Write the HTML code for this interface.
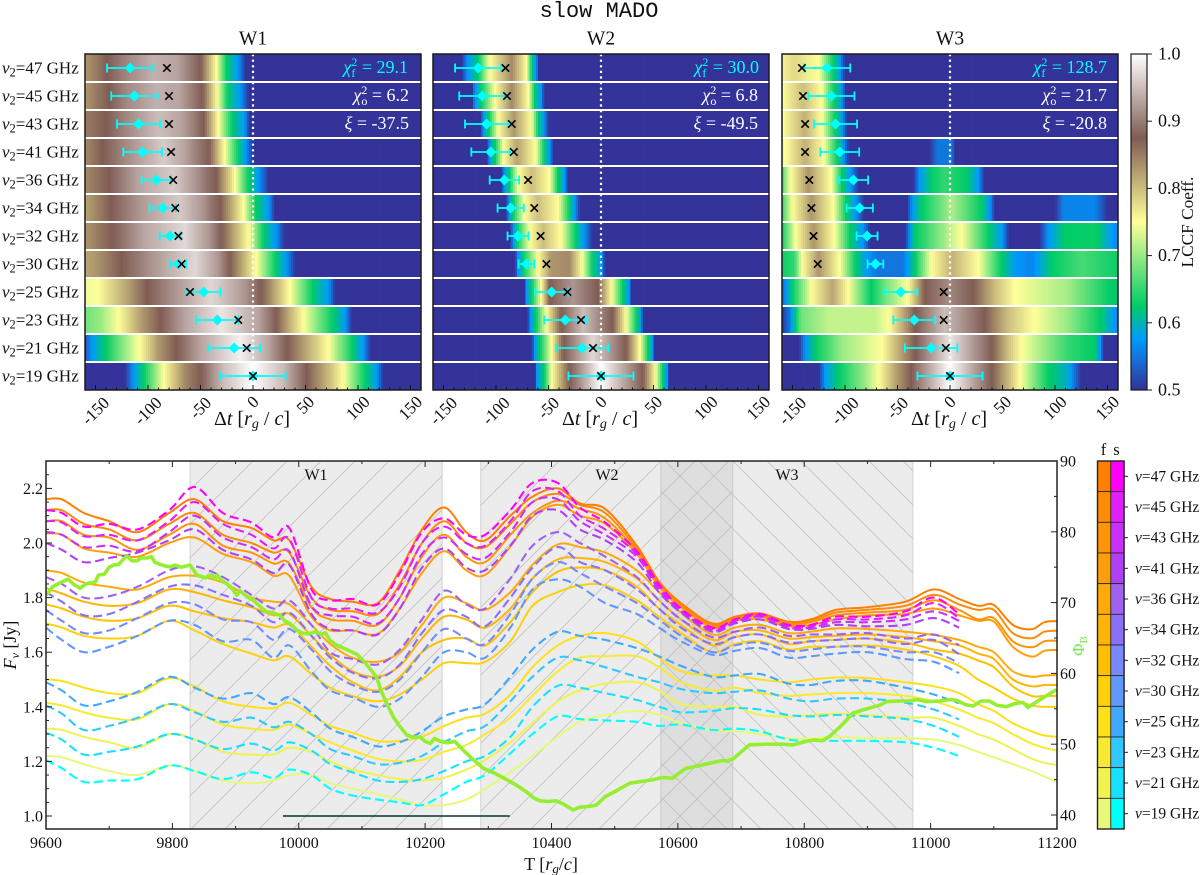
<!DOCTYPE html>
<html lang="en">
<head>
<meta charset="utf-8">
<title>slow MADO</title>
<style>
html,body{margin:0;padding:0;background:#fff;}
svg{display:block;}
text{font-family:"Liberation Serif","DejaVu Serif",serif;fill:#111;}
</style>
</head>
<body>
<svg id="chart" width="1200" height="875" viewBox="0 0 1200 875" xmlns="http://www.w3.org/2000/svg">
<defs>
<pattern id="hatch-fwd" patternUnits="userSpaceOnUse" width="34" height="34"><path d="M-2,36 L36,-2 M-2,2 L2,-2 M32,36 L36,32" stroke="#c4c4c4" stroke-width="0.9" fill="none"/></pattern>
<pattern id="hatch-back" patternUnits="userSpaceOnUse" width="34" height="34"><path d="M-2,-2 L36,36 M32,-2 L36,2 M-2,32 L2,36" stroke="#c4c4c4" stroke-width="0.9" fill="none"/></pattern>
</defs>
<text x="599" y="17" text-anchor="middle" style="font-family:'Liberation Mono',monospace;font-size:22px">slow MADO</text>
<text x="253" y="44.5" text-anchor="middle" font-size="19.5">W1</text>
<text x="601" y="44.5" text-anchor="middle" font-size="19.5">W2</text>
<text x="950" y="44.5" text-anchor="middle" font-size="19.5">W3</text>
<g id="heat-layer"></g>
<g font-size="18">
<text x="408" y="73" text-anchor="end" style="fill:#00ffff"><tspan font-style="italic" style="fill:#00ffff">χ</tspan><tspan dy="4" font-size="12" style="fill:#00ffff">f</tspan><tspan dy="-11" dx="-4" font-size="12" style="fill:#00ffff">2</tspan><tspan dy="7" style="fill:#00ffff"> = 29.1</tspan></text>
<text x="409" y="101" text-anchor="end" style="fill:#fff"><tspan font-style="italic" style="fill:#fff">χ</tspan><tspan dy="4" font-size="12" style="fill:#fff">o</tspan><tspan dy="-11" dx="-6" font-size="12" style="fill:#fff">2</tspan><tspan dy="7" style="fill:#fff"> = 6.2</tspan></text>
<text x="409" y="129" text-anchor="end" style="fill:#fff"><tspan font-style="italic" style="fill:#fff">ξ</tspan> = -37.5</text>
</g>
<g font-size="18">
<text x="759" y="73" text-anchor="end" style="fill:#00ffff"><tspan font-style="italic" style="fill:#00ffff">χ</tspan><tspan dy="4" font-size="12" style="fill:#00ffff">f</tspan><tspan dy="-11" dx="-4" font-size="12" style="fill:#00ffff">2</tspan><tspan dy="7" style="fill:#00ffff"> = 30.0</tspan></text>
<text x="758" y="101" text-anchor="end" style="fill:#fff"><tspan font-style="italic" style="fill:#fff">χ</tspan><tspan dy="4" font-size="12" style="fill:#fff">o</tspan><tspan dy="-11" dx="-6" font-size="12" style="fill:#fff">2</tspan><tspan dy="7" style="fill:#fff"> = 6.8</tspan></text>
<text x="758" y="129" text-anchor="end" style="fill:#fff"><tspan font-style="italic" style="fill:#fff">ξ</tspan> = -49.5</text>
</g>
<g font-size="18">
<text x="1107" y="73" text-anchor="end" style="fill:#00ffff"><tspan font-style="italic" style="fill:#00ffff">χ</tspan><tspan dy="4" font-size="12" style="fill:#00ffff">f</tspan><tspan dy="-11" dx="-4" font-size="12" style="fill:#00ffff">2</tspan><tspan dy="7" style="fill:#00ffff"> = 128.7</tspan></text>
<text x="1107" y="101" text-anchor="end" style="fill:#fff"><tspan font-style="italic" style="fill:#fff">χ</tspan><tspan dy="4" font-size="12" style="fill:#fff">o</tspan><tspan dy="-11" dx="-6" font-size="12" style="fill:#fff">2</tspan><tspan dy="7" style="fill:#fff"> = 21.7</tspan></text>
<text x="1107" y="129" text-anchor="end" style="fill:#fff"><tspan font-style="italic" style="fill:#fff">ξ</tspan> = -20.8</text>
</g>
<text x="252" y="425" text-anchor="middle" font-size="20">Δ<tspan font-style="italic">t</tspan> [<tspan font-style="italic">r</tspan><tspan font-style="italic" font-size="14" dy="3">g</tspan><tspan dy="-3"> /</tspan> <tspan font-style="italic">c</tspan>]</text>
<text x="600" y="425" text-anchor="middle" font-size="20">Δ<tspan font-style="italic">t</tspan> [<tspan font-style="italic">r</tspan><tspan font-style="italic" font-size="14" dy="3">g</tspan><tspan dy="-3"> /</tspan> <tspan font-style="italic">c</tspan>]</text>
<text x="949" y="425" text-anchor="middle" font-size="20">Δ<tspan font-style="italic">t</tspan> [<tspan font-style="italic">r</tspan><tspan font-style="italic" font-size="14" dy="3">g</tspan><tspan dy="-3"> /</tspan> <tspan font-style="italic">c</tspan>]</text>
<text transform="translate(1193,222) rotate(-90)" text-anchor="middle" font-size="17.3">LCCF Coeff.</text>
<g id="colorbar-layer"></g>
<g id="flux-layer"></g>
<text x="551" y="870" text-anchor="middle" font-size="18">T [<tspan font-style="italic">r</tspan><tspan font-style="italic" font-size="13" dy="3">g</tspan><tspan dy="-3">/</tspan><tspan font-style="italic">c</tspan>]</text>
<text transform="translate(16,645) rotate(-90)" text-anchor="middle" font-size="18"><tspan font-style="italic">F</tspan><tspan font-style="italic" font-size="12" dy="3">ν</tspan><tspan dy="-3"> [Jy]</tspan></text>
<text transform="translate(1084,646) rotate(-90)" text-anchor="middle" font-size="17" style="fill:#70e848">Φ<tspan font-size="11" dy="3" style="fill:#70e848">B</tspan></text>
<g id="legend-layer"></g>
<text x="1103.5" y="455" text-anchor="middle" font-size="16.5">f</text>
<text x="1116.5" y="455" text-anchor="middle" font-size="16.5">s</text>
</svg>
<script>
// ----- LCCF heatmap data: each row is a list of [lag, coefficient] readings -----
const frequencies = [47,45,43,41,36,34,32,30,25,23,21,19];
const fitLags = [-117,-113,-109,-105,-92,-86,-79,-71,-47,-34,-18,0];
const fitErrors = [22,22,20.5,18.5,14,12.5,10,7.5,16,20,25,31];
const w1PeakLags = [-82,-80,-80,-78,-76,-74,-71,-68,-60,-14,-6,0];
const w2PeakLags = [-91,-89.5,-85,-83,-69.5,-63.5,-57.5,-52,-32,-19,-7.6,0];
const w3PeakLags = [-141,-140,-138,-138,-134,-132,-130,-126,-6,-6,-4,0];
const lagTicks = [-150,-100,-50,0,50,100,150];
const colorbarTicks = ['0.5','0.6','0.7','0.8','0.9','1.0'];
const terrainLevels = [0.5,0.575,0.625,0.75,0.875,1.0];
const terrainColors = [[51,51,153],[0,153,255],[0,204,102],[255,255,153],[128,92,84],[255,255,255]];

const w1Rows = [
 [[-160,.83],[-150,.85],[-139,.875],[-125,.90],[-95,.94],[-72,.93],[-60,.90],[-50,.875],[-35,.75],[-25,.625],[-14,.575],[-7,.5]],
 [[-160,.83],[-148,.855],[-137,.875],[-120,.91],[-92,.94],[-70,.93],[-58,.90],[-48,.875],[-34,.75],[-24,.625],[-12,.575],[-4,.5]],
 [[-160,.85],[-140,.875],[-120,.91],[-90,.95],[-68,.93],[-56,.90],[-47,.875],[-33,.75],[-20,.625],[-8,.575],[-3,.5]],
 [[-160,.84],[-143,.875],[-115,.92],[-85,.96],[-65,.93],[-53,.90],[-42,.875],[-27,.75],[-14,.625],[-7,.575],[0,.5]],
 [[-160,.84],[-137,.875],[-110,.93],[-75,.96],[-55,.92],[-43,.89],[-35,.875],[-17,.75],[-4,.625],[5,.575],[15,.5]],
 [[-160,.82],[-135,.875],[-108,.92],[-70,.96],[-48,.92],[-38,.89],[-31,.875],[-9,.75],[3,.625],[15,.575],[21,.5]],
 [[-160,.83],[-134,.875],[-105,.93],[-65,.97],[-42,.92],[-34,.89],[-30,.875],[-4,.75],[10,.625],[22,.575],[30,.5]],
 [[-160,.82],[-150,.83],[-125,.875],[-95,.92],[-55,.97],[-33,.92],[-22,.875],[3,.75],[22,.625],[32,.575],[40,.5]],
 [[-160,.74],[-148,.75],[-120,.82],[-101,.875],[-80,.91],[-40,.97],[-8,.92],[8,.875],[20,.82],[35,.75],[57,.625],[72,.575],[78,.5]],
 [[-160,.68],[-145,.70],[-128,.75],[-105,.83],[-88,.875],[-65,.93],[-30,.98],[5,.93],[22,.875],[35,.81],[48,.75],[76,.625],[88,.575],[94,.5]],
 [[-160,.52],[-154,.575],[-140,.625],[-125,.69],[-108,.75],[-90,.83],[-73,.875],[-50,.93],[-12,.99],[15,.93],[32,.875],[50,.82],[72,.75],[95,.625],[105,.575],[112,.5]],
 [[-160,.5],[-122,.5],[-114,.575],[-104,.625],[-85,.75],[-65,.84],[-50,.875],[-28,.95],[0,1],[28,.95],[51,.875],[70,.81],[86,.75],[107,.625],[118,.575],[124,.5]]
];
const w2Rows = [
 [[-133,.5],[-127,.575],[-117,.625],[-106,.75],[-85,.84],[-71,.75],[-66,.625],[-62,.575],[-59,.5]],
 [[-123,.5],[-120,.575],[-114,.625],[-101,.75],[-85,.84],[-69,.75],[-63,.625],[-57,.575],[-54,.5]],
 [[-115,.5],[-112,.575],[-107,.625],[-98,.75],[-83,.83],[-66,.75],[-60,.625],[-54,.575],[-50,.5]],
 [[-109,.5],[-106,.575],[-101,.625],[-93,.75],[-80,.82],[-62,.75],[-54,.625],[-49,.575],[-45,.5]],
 [[-95,.5],[-92,.575],[-87,.625],[-79,.75],[-66,.80],[-49,.75],[-41,.625],[-35,.575],[-31,.5]],
 [[-90,.5],[-88,.575],[-84,.625],[-73,.75],[-60,.80],[-41,.75],[-30,.625],[-25,.575],[-20,.5]],
 [[-86,.5],[-84,.575],[-80,.625],[-68,.75],[-55,.80],[-38,.75],[-24,.625],[-16,.575],[-8,.5]],
 [[-82,.5],[-79,.575],[-74,.625],[-60,.75],[-48,.83],[-30,.84],[-18,.75],[-8,.625],[0,.575],[4,.5]],
 [[-73,.5],[-71,.575],[-66,.625],[-57,.75],[-49,.875],[-27,.92],[-3,.875],[10,.75],[21,.625],[27,.575],[29,.5]],
 [[-70,.5],[-67,.575],[-62,.625],[-52,.75],[-38,.875],[-17,.95],[11,.875],[24,.75],[34,.625],[38,.575],[40,.5]],
 [[-66,.5],[-63,.575],[-58,.625],[-47,.75],[-36,.875],[-8,.97],[24,.875],[37,.75],[45,.625],[49,.575],[51,.5]],
 [[-63,.5],[-61,.575],[-54,.625],[-47,.75],[-30,.875],[0,1],[40,.875],[52,.75],[59,.625],[63,.575],[65,.5]]
];
const w3Rows = [
 [[-160,.76],[-148,.78],[-125,.75],[-114,.65],[-106,.59],[-100,.5]],
 [[-160,.75],[-140,.80],[-122,.75],[-113,.65],[-104,.585],[-99,.5]],
 [[-160,.75],[-138,.81],[-122,.75],[-112,.65],[-103,.58],[-98,.5]],
 [[-160,.74],[-138,.81],[-120,.75],[-110,.65],[-102,.58],[-96,.5],[-20,.5],[-12,.55],[2,.55],[5,.5]],
 [[-160,.66],[-152,.75],[-135,.83],[-113,.75],[-103,.625],[-95,.575],[-87,.5],[-35,.5],[-29,.575],[-18,.625],[-5,.65],[15,.625],[27,.575],[33,.5]],
 [[-160,.65],[-150,.75],[-132,.83],[-111,.75],[-99,.625],[-90,.575],[-82,.5],[-41,.5],[-36,.575],[-27,.625],[2,.71],[30,.625],[38,.575],[43,.5],[100,.5],[108,.56],[138,.56],[150,.5]],
 [[-160,.63],[-147,.75],[-130,.83],[-110,.75],[-95,.625],[-83,.575],[-76,.5],[-43,.5],[-38,.575],[-33,.625],[11,.75],[37,.625],[50,.575],[56,.5],[85,.5],[94,.575],[109,.625],[138,.63],[155,.575],[160,.56]],
 [[-160,.63],[-148,.65],[-141,.75],[-125,.83],[-105,.75],[-90,.625],[-78,.575],[-70,.55],[-45,.55],[-33,.625],[-18,.75],[2,.81],[27,.75],[49,.625],[62,.575],[78,.56],[97,.625],[125,.66],[160,.63]],
 [[-160,.54],[-156,.575],[-150,.625],[-132,.75],[-112,.82],[-97,.75],[-75,.625],[-62,.68],[-40,.75],[-24,.875],[-2,.91],[22,.875],[43,.80],[62,.75],[112,.705],[150,.63],[160,.62]],
 [[-160,.5],[-153,.55],[-149,.6],[-142,.68],[-115,.72],[-72,.72],[-58,.75],[-33,.875],[-5,.95],[33,.875],[55,.80],[80,.75],[112,.70],[143,.625],[157,.575],[160,.56]],
 [[-160,.5],[-144,.5],[-138,.575],[-128,.625],[-103,.70],[-65,.75],[-33,.875],[0,.98],[40,.875],[55,.80],[68,.75],[112,.65],[137,.625],[143,.575],[146,.5]],
 [[-160,.5],[-125,.5],[-119,.575],[-106,.625],[-81,.70],[-68,.75],[-52,.82],[-37,.875],[0,1],[40,.875],[52,.82],[67,.75],[94,.625],[113,.59],[125,.5]]
];

// ----- Light curve data -----
const timeGrid = [9600,9625,9660,9700,9745,9795,9835,9880,9925,9960,9985,10020,10050,10085,10125,10160,10195,10230,10265,10295,10335,10370,10410,10445,10485,10535,10570,10605,10655,10690,10730,10775,10810,10850,10900,10960,11005,11045,11075,11100,11130,11160,11180,11200];
const fast47 = [2.16,2.16,2.11,2.08,2.04,2.11,2.16,2.08,2.055,2.01,2.01,1.84,1.795,1.785,1.78,1.90,2.05,2.13,2.04,2.01,2.10,2.17,2.20,2.145,2.125,1.99,1.86,1.78,1.705,1.73,1.742,1.712,1.72,1.755,1.765,1.785,1.83,1.795,1.77,1.773,1.70,1.684,1.71,1.714];
const fast45 = [2.12,2.12,2.07,2.05,2.01,2.07,2.11,2.03,2.00,1.965,1.965,1.80,1.755,1.75,1.74,1.85,2.00,2.08,2.00,1.985,2.07,2.15,2.18,2.14,2.11,1.98,1.855,1.775,1.70,1.725,1.737,1.707,1.715,1.745,1.755,1.77,1.81,1.775,1.755,1.755,1.67,1.651,1.675,1.679];
const fast43 = [2.08,2.08,2.03,2.02,1.975,2.03,2.07,1.99,1.965,1.925,1.925,1.765,1.72,1.715,1.70,1.80,1.95,2.03,1.95,1.93,2.03,2.11,2.155,2.125,2.09,1.97,1.85,1.77,1.695,1.72,1.73,1.70,1.71,1.735,1.745,1.755,1.79,1.755,1.72,1.725,1.64,1.618,1.64,1.642];
const fast41 = [2.035,2.03,1.98,1.965,1.95,2.0,2.02,1.96,1.93,1.88,1.88,1.73,1.68,1.68,1.667,1.76,1.89,1.97,1.90,1.883,1.987,2.096,2.14,2.10,2.07,1.96,1.84,1.765,1.69,1.715,1.72,1.695,1.70,1.72,1.735,1.74,1.76,1.735,1.715,1.712,1.62,1.584,1.605,1.608];
const fast36 = [1.90,1.89,1.855,1.84,1.83,1.875,1.88,1.855,1.80,1.785,1.775,1.70,1.63,1.58,1.565,1.60,1.70,1.80,1.78,1.755,1.82,1.92,1.995,1.985,1.965,1.90,1.82,1.745,1.665,1.69,1.70,1.67,1.675,1.687,1.685,1.675,1.663,1.645,1.62,1.60,1.53,1.51,1.515,1.516];
const fast34 = [1.835,1.815,1.785,1.77,1.78,1.83,1.82,1.79,1.765,1.735,1.74,1.66,1.59,1.53,1.51,1.55,1.65,1.73,1.72,1.69,1.76,1.87,1.94,1.945,1.93,1.87,1.79,1.72,1.645,1.675,1.68,1.65,1.655,1.66,1.665,1.655,1.64,1.625,1.595,1.575,1.50,1.475,1.48,1.48];
const fast32 = [1.775,1.76,1.73,1.715,1.725,1.77,1.75,1.725,1.71,1.69,1.70,1.62,1.55,1.49,1.46,1.51,1.60,1.645,1.65,1.625,1.71,1.82,1.895,1.91,1.90,1.84,1.76,1.70,1.625,1.655,1.665,1.63,1.64,1.645,1.65,1.635,1.61,1.595,1.57,1.545,1.475,1.44,1.44,1.44];
const fast30 = [1.705,1.69,1.66,1.65,1.66,1.715,1.68,1.63,1.595,1.57,1.585,1.52,1.47,1.44,1.42,1.445,1.50,1.56,1.56,1.565,1.64,1.77,1.82,1.845,1.845,1.79,1.73,1.67,1.60,1.63,1.64,1.61,1.62,1.62,1.625,1.61,1.585,1.55,1.50,1.47,1.43,1.405,1.40,1.40];
const fast25 = [1.50,1.495,1.47,1.45,1.45,1.505,1.475,1.42,1.40,1.395,1.415,1.37,1.33,1.305,1.275,1.275,1.29,1.33,1.36,1.375,1.445,1.545,1.625,1.66,1.67,1.64,1.58,1.53,1.515,1.515,1.50,1.49,1.50,1.507,1.505,1.49,1.475,1.45,1.41,1.385,1.34,1.31,1.295,1.29];
const fast23 = [1.415,1.405,1.38,1.36,1.355,1.41,1.385,1.335,1.32,1.315,1.335,1.30,1.27,1.24,1.21,1.20,1.205,1.235,1.26,1.30,1.36,1.44,1.53,1.58,1.585,1.585,1.545,1.49,1.46,1.47,1.45,1.44,1.445,1.45,1.45,1.44,1.42,1.39,1.36,1.34,1.30,1.265,1.25,1.24];
const fast21 = [1.32,1.315,1.29,1.27,1.25,1.30,1.28,1.235,1.225,1.225,1.25,1.235,1.20,1.17,1.15,1.135,1.13,1.14,1.17,1.205,1.27,1.34,1.42,1.46,1.485,1.49,1.46,1.41,1.40,1.40,1.37,1.365,1.37,1.375,1.37,1.36,1.36,1.33,1.30,1.28,1.245,1.21,1.195,1.187];
const fast19 = [1.22,1.215,1.19,1.165,1.15,1.185,1.165,1.13,1.12,1.13,1.15,1.15,1.12,1.10,1.08,1.06,1.04,1.04,1.06,1.10,1.16,1.22,1.29,1.345,1.37,1.385,1.37,1.34,1.315,1.31,1.30,1.285,1.285,1.29,1.285,1.285,1.28,1.26,1.235,1.215,1.19,1.165,1.145,1.125];
const slow47 = [2.12,2.11,2.06,2.07,2.05,2.12,2.205,2.11,2.075,2.02,2.055,1.83,1.79,1.795,1.775,1.89,2.04,2.09,2.03,2.03,2.12,2.22,2.22,2.13,2.075,1.97,1.85,1.76,1.69,1.72,1.74,1.70,1.70,1.73,1.73,1.75,1.80,1.74];
const slow45 = [2.08,2.075,2.025,2.03,2.01,2.08,2.15,2.07,2.03,1.98,2.015,1.80,1.76,1.76,1.745,1.84,2.00,2.06,2.00,1.99,2.08,2.19,2.19,2.10,2.05,1.96,1.84,1.755,1.685,1.715,1.735,1.695,1.695,1.72,1.72,1.735,1.78,1.725];
const slow43 = [2.04,2.03,1.985,1.99,1.97,2.04,2.10,2.02,1.985,1.94,1.97,1.77,1.735,1.73,1.705,1.80,1.96,2.02,1.96,1.945,2.04,2.15,2.16,2.08,2.03,1.95,1.83,1.75,1.68,1.71,1.73,1.69,1.69,1.71,1.71,1.72,1.75,1.715];
const slow41 = [2.0,1.975,1.93,1.945,1.965,2.01,2.05,1.975,1.94,1.89,1.92,1.74,1.685,1.68,1.665,1.76,1.91,1.98,1.91,1.90,1.99,2.10,2.12,2.05,2.01,1.93,1.82,1.745,1.675,1.705,1.72,1.685,1.685,1.70,1.695,1.70,1.725,1.69];
const slow36 = [1.875,1.85,1.80,1.805,1.84,1.90,1.915,1.875,1.81,1.76,1.79,1.70,1.60,1.575,1.555,1.61,1.72,1.825,1.775,1.76,1.87,1.99,2.04,2.0,1.95,1.875,1.79,1.72,1.655,1.675,1.69,1.66,1.665,1.665,1.67,1.65,1.665,1.626];
const slow34 = [1.82,1.785,1.735,1.74,1.785,1.84,1.845,1.81,1.77,1.71,1.745,1.66,1.58,1.525,1.505,1.555,1.67,1.755,1.73,1.695,1.80,1.91,1.985,1.93,1.90,1.83,1.76,1.69,1.63,1.655,1.665,1.635,1.64,1.645,1.65,1.63,1.645,1.593];
const slow32 = [1.755,1.715,1.67,1.68,1.725,1.78,1.775,1.72,1.71,1.645,1.685,1.61,1.53,1.48,1.455,1.50,1.60,1.685,1.65,1.63,1.74,1.87,1.93,1.89,1.84,1.78,1.72,1.66,1.60,1.625,1.635,1.605,1.61,1.62,1.62,1.60,1.60,1.56];
const slow30 = [1.69,1.645,1.60,1.62,1.66,1.715,1.70,1.64,1.645,1.58,1.625,1.53,1.46,1.435,1.40,1.43,1.51,1.60,1.60,1.58,1.69,1.83,1.867,1.84,1.78,1.74,1.69,1.64,1.59,1.605,1.615,1.58,1.585,1.595,1.60,1.575,1.565,1.523];
const slow25 = [1.49,1.46,1.405,1.42,1.455,1.51,1.47,1.43,1.45,1.41,1.435,1.38,1.32,1.29,1.255,1.27,1.31,1.365,1.39,1.41,1.51,1.61,1.675,1.66,1.645,1.615,1.585,1.55,1.51,1.515,1.52,1.485,1.48,1.495,1.495,1.47,1.445,1.413];
const slow23 = [1.405,1.375,1.315,1.33,1.36,1.41,1.38,1.345,1.36,1.325,1.345,1.30,1.245,1.22,1.19,1.195,1.22,1.27,1.31,1.33,1.42,1.51,1.58,1.57,1.545,1.51,1.49,1.465,1.45,1.455,1.46,1.43,1.42,1.43,1.43,1.415,1.39,1.354];
const slow21 = [1.305,1.28,1.225,1.235,1.255,1.30,1.28,1.245,1.265,1.24,1.27,1.24,1.19,1.16,1.13,1.125,1.135,1.165,1.20,1.22,1.29,1.40,1.477,1.47,1.45,1.425,1.40,1.38,1.385,1.395,1.39,1.37,1.365,1.37,1.365,1.355,1.33,1.29];
const slow19 = [1.205,1.175,1.125,1.13,1.135,1.185,1.165,1.135,1.16,1.14,1.17,1.15,1.10,1.075,1.06,1.05,1.04,1.08,1.125,1.15,1.23,1.30,1.365,1.355,1.35,1.345,1.33,1.335,1.315,1.32,1.31,1.28,1.275,1.275,1.275,1.27,1.25,1.22];
const fastSeries = [fast47,fast45,fast43,fast41,fast36,fast34,fast32,fast30,fast25,fast23,fast21,fast19];
const slowSeries = [slow47,slow45,slow43,slow41,slow36,slow34,slow32,slow30,slow25,slow23,slow21,slow19];
const fastColors = ['#ff8000','#ff8a05','#ff9408','#ff9e0a','#ffaa08','#ffb406','#ffc004','#ffd008','#ffe018','#f8ea30','#f0f250','#e8f878'];
const slowColors = ['#ff00ff','#e020ff','#c830ff','#b040f8','#a060f0','#8a70f8','#7888ff','#6098ff','#40a8ff','#30c8ff','#18e0ff','#00ffff'];
const phiReadings = [[9601,71.05],[9610,72.2],[9620,72.7],[9635,73.3],[9645,72.5],[9654,72.0],[9662,72.6],[9670,72.8],[9678,72.9],[9683,73.9],[9692,74.0],[9700,75.0],[9707,75.3],[9715,75.4],[9722,76.1],[9728,76.6],[9736,75.9],[9744,75.9],[9750,76.3],[9760,76.3],[9767,76.5],[9772,75.7],[9778,75.5],[9787,75.2],[9796,75.05],[9805,75.3],[9813,75.0],[9828,75.3],[9839,73.9],[9852,73.5],[9862,73.9],[9868,73.4],[9871,73.9],[9878,73.1],[9886,72.7],[9895,71.9],[9902,71.05],[9907,71.7],[9912,71.3],[9920,70.7],[9928,70.35],[9938,69.5],[9949,68.7],[9958,68.6],[9970,68.2],[9978,67.4],[9986,67.05],[9997,66.1],[10007,65.65],[10016,65.6],[10027,65.9],[10035,65.5],[10042,65.75],[10050,64.6],[10060,64.0],[10075,63.4],[10092,62.7],[10105,61.5],[10123,59.5],[10130,57.6],[10139,55.8],[10150,53.8],[10160,52.5],[10171,51.3],[10180,51.0],[10192,51.0],[10200,50.4],[10208,50.1],[10215,50.8],[10224,50.4],[10235,50.2],[10247,50.4],[10260,49.2],[10274,48.0],[10292,46.6],[10310,45.9],[10329,45.0],[10345,44.2],[10363,43.1],[10372,42.4],[10382,42.0],[10395,41.9],[10408,42.0],[10420,41.5],[10434,40.7],[10445,41.1],[10458,41.2],[10471,41.4],[10485,42.6],[10503,43.45],[10512,43.9],[10524,44.5],[10540,44.7],[10561,45.0],[10575,45.3],[10592,45.2],[10603,46.0],[10613,46.6],[10630,46.9],[10650,47.3],[10671,47.7],[10678,47.6],[10687,47.9],[10700,48.9],[10713,49.9],[10740,50.0],[10765,50.0],[10782,49.9],[10803,50.4],[10815,50.6],[10829,50.5],[10840,51.1],[10855,52.3],[10865,53.2],[10877,54.4],[10895,54.9],[10919,55.5],[10930,56.0],[10946,56.1],[10965,56.1],[10980,56.3],[10993,56.0],[11015,56.1],[11030,56.3],[11041,56.2],[11055,55.6],[11067,55.4],[11080,56.1],[11093,56.1],[11105,55.5],[11120,55.3],[11132,55.7],[11146,55.9],[11154,55.2],[11175,56.4],[11199,57.7]];
const timeTicks = [9600,9800,10000,10200,10400,10600,10800,11000,11200];
const fluxTicks = ['1.0','1.2','1.4','1.6','1.8','2.0','2.2'];
const phiTicks = [40,50,60,70,80,90];
const windowNames = ['W1','W2','W3'];
const windowStarts = [9828,10288,10573];
const windowEnds = [10227,10687,10972];
const barStart = 9975;
const barEnd = 10334;
const barFlux = 1.0;

// ----- helpers -----
const NS = 'http://www.w3.org/2000/svg';
function mk(tag, attrs, parent, txt) {
  const n = document.createElementNS(NS, tag);
  for (const k in attrs) n.setAttribute(k, attrs[k]);
  if (txt !== undefined) n.textContent = txt;
  parent.appendChild(n);
  return n;
}
function tagged(n, name) {
  
  
  return n;
}
function corrAt(row, lag) {
  if (lag <= row[0][0]) return row[0][1];
  for (let i = 1; i < row.length; i++) {
    if (lag <= row[i][0]) {
      const t = (lag - row[i-1][0]) / (row[i][0] - row[i-1][0]);
      return row[i-1][1] + t * (row[i][1] - row[i-1][1]);
    }
  }
  return row[row.length-1][1];
}
function terrain(v) {
  const c = Math.max(0.5, Math.min(1, v));
  for (let i = 1; i < terrainLevels.length; i++) {
    if (c <= terrainLevels[i]) {
      const t = (c - terrainLevels[i-1]) / (terrainLevels[i] - terrainLevels[i-1]);
      const a = terrainColors[i-1], b = terrainColors[i];
      return 'rgb(' + Math.round(a[0]+t*(b[0]-a[0])) + ',' + Math.round(a[1]+t*(b[1]-a[1])) + ',' + Math.round(a[2]+t*(b[2]-a[2])) + ')';
    }
  }
  return 'rgb(255,255,255)';
}

// ----- heatmap panels -----
const heatLayer = document.getElementById('heat-layer');
const panelTop = 54, rowH = 28, panelH = 336, panelW = 336;
const panels = [
  {name:'w1', left:85, rows:w1Rows, peaks:w1PeakLags},
  {name:'w2', left:433, rows:w2Rows, peaks:w2PeakLags},
  {name:'w3', left:782, rows:w3Rows, peaks:w3PeakLags}
];
panels.forEach(function(p) {
  const lagX = function(l) { return p.left + (l + 160) * panelW / 320; };
  const g = tagged(mk('g', {}, heatLayer), p.name + '-panel');
  p.rows.forEach(function(row, i) {
    const rg = tagged(mk('g', {}, g), p.name + '-row-' + frequencies[i] + 'ghz');
    const y = panelTop + i * rowH;
    for (let lag = -160; lag < 160; lag += 2) {
      const cell = mk('rect', {x:lagX(lag).toFixed(2), y:y, width:lag >= 158 ? 2.1 : 2.6, height:rowH, fill:terrain(corrAt(row, lag + 1))}, rg);
      
      
    }
  });
  for (let i = 1; i < 12; i++) {
    const sep = mk('rect', {x:p.left, y:panelTop + i*rowH - 1, width:panelW, height:2, fill:'#fff'}, g);
    
    
  }
  const zero = mk('line', {x1:lagX(0), x2:lagX(0), y1:panelTop, y2:panelTop+panelH, stroke:'#fff', 'stroke-width':2.2, 'stroke-dasharray':'2.2 3.4'}, g);
  
  
  for (let l = -150; l <= 150; l += 10) {
    const major = l % 50 === 0;
    const t = mk('line', {x1:lagX(l), x2:lagX(l), y1:panelTop+panelH, y2:panelTop+panelH-(major?5:2.5), stroke:'#111', 'stroke-width':1}, g);
    
    
  }
  fitLags.forEach(function(l, i) {
    const cy = panelTop + i*rowH + rowH/2;
    const e = fitErrors[i];
    const bar = mk('path', {d:'M'+lagX(l-e)+','+cy+'H'+lagX(l+e)+'M'+lagX(l-e)+','+(cy-4.5)+'V'+(cy+4.5)+'M'+lagX(l+e)+','+(cy-4.5)+'V'+(cy+4.5), stroke:'#00ffff', 'stroke-width':1.8, fill:'none'}, g);
    
    
    const cx = lagX(l);
    const d = mk('path', {d:'M'+(cx-5.5)+','+cy+'L'+cx+','+(cy-5.5)+'L'+(cx+5.5)+','+cy+'L'+cx+','+(cy+5.5)+'Z', fill:'#00ffff'}, g);
    
    
  });
  p.peaks.forEach(function(l, i) {
    const cy = panelTop + i*rowH + rowH/2;
    const cx = lagX(l);
    const x = mk('path', {d:'M'+(cx-3.7)+','+(cy-3.7)+'L'+(cx+3.7)+','+(cy+3.7)+'M'+(cx-3.7)+','+(cy+3.7)+'L'+(cx+3.7)+','+(cy-3.7), stroke:'#000', 'stroke-width':1.6, fill:'none'}, g);
    
    
  });
  const frame = mk('rect', {x:p.left, y:panelTop, width:panelW, height:panelH, fill:'none', stroke:'#1a1a1a', 'stroke-width':1.5}, g);
  
  
  lagTicks.forEach(function(l) {
    const s = String(l);
    const w = s.length * 8.5;
    const cy = 394 + (w + 14) * 0.3535;
    const lab = mk('text', {transform:'translate('+lagX(l)+','+cy+') rotate(-45)', 'text-anchor':'middle', 'dominant-baseline':'central', 'font-size':17}, g, s);
    
    
  });
});
frequencies.forEach(function(f, i) {
  const t = mk('text', {x:2, y:panelTop + i*rowH + rowH/2 + 5.5, 'font-size':17}, heatLayer);
  
  
  mk('tspan', {'font-style':'italic'}, t, 'ν');
  mk('tspan', {'font-size':12.5, dy:3}, t, '2');
  mk('tspan', {dy:-3}, t, '=' + f + ' GHz');
});

// ----- colorbar -----
const cbLayer = document.getElementById('colorbar-layer');
const cbY = function(v) { return 390 - (v - 0.5) * 672; };
for (let k = 0; k < 336; k++) {
  const s = mk('rect', {x:1131, y:54 + k, width:16, height:1.5, fill:terrain(1 - (k + 0.5) / 672)}, cbLayer);
  
  
}
const cbFrame = mk('rect', {x:1131, y:54, width:16, height:336, fill:'none', stroke:'#1a1a1a', 'stroke-width':1.2}, cbLayer);


colorbarTicks.forEach(function(lbl) {
  const y = cbY(parseFloat(lbl));
  const tk = mk('line', {x1:1147, x2:1152, y1:y, y2:y, stroke:'#1a1a1a', 'stroke-width':1}, cbLayer);
  
  
  const tx = mk('text', {x:1158, y:y + 5.5, 'font-size':18}, cbLayer, lbl);
  
  
});

// ----- light curve plot -----
const fl = document.getElementById('flux-layer');
const pL = 46, pR = 1057, pT = 461, pB = 829;
const xT = function(t) { return pL + (t - 9600) * (pR - pL) / 1600; };
const yF = function(f) { return 816 - (f - 1) * 273; };
const yPhi = function(v) { return 815 - (v - 40) * 7.08; };
function smoothPath(ts, vs, yFn) {
  const n = vs.length;
  const xs = [], ys = [];
  for (let i = 0; i < n; i++) { xs.push(xT(ts[i])); ys.push(yFn(vs[i])); }
  let d = 'M' + xs[0].toFixed(1) + ',' + ys[0].toFixed(1);
  for (let i = 0; i < n - 1; i++) {
    const a = Math.max(0, i - 1), b = Math.min(n - 1, i + 2);
    const c1x = xs[i] + (xs[i+1] - xs[a]) / 6, c1y = ys[i] + (ys[i+1] - ys[a]) / 6;
    const c2x = xs[i+1] - (xs[b] - xs[i]) / 6, c2y = ys[i+1] - (ys[b] - ys[i]) / 6;
    d += 'C' + c1x.toFixed(1) + ',' + c1y.toFixed(1) + ' ' + c2x.toFixed(1) + ',' + c2y.toFixed(1) + ' ' + xs[i+1].toFixed(1) + ',' + ys[i+1].toFixed(1);
  }
  return d;
}
windowNames.forEach(function(w, i) {
  const x0 = xT(windowStarts[i]), x1 = xT(windowEnds[i]);
  const shade = mk('rect', {x:x0, y:pT, width:x1 - x0, height:pB - pT, fill:'#b8b8b8', 'fill-opacity':0.27, stroke:'#bbb', 'stroke-opacity':0.6, 'stroke-width':1}, fl);
  
  
  const hatch = mk('rect', {x:x0, y:pT, width:x1 - x0, height:pB - pT, fill:i < 2 ? 'url(#hatch-fwd)' : 'url(#hatch-back)'}, fl);
  
  
});
const windowCenters = [316, 607, 787];
windowNames.forEach(function(w, i) {
  const lbl = mk('text', {x:windowCenters[i], y:480, 'text-anchor':'middle', 'font-size':16}, fl, w);
  
  
});
const bar = mk('line', {x1:xT(barStart), x2:xT(barEnd), y1:yF(barFlux), y2:yF(barFlux), stroke:'#0c3030', 'stroke-width':1.6}, fl);


for (let i = 11; i >= 0; i--) {
  const path = mk('path', {d:smoothPath(timeGrid, fastSeries[i], yF), fill:'none', stroke:fastColors[i], 'stroke-width':2, 'stroke-linejoin':'round'}, fl);
  
  
}
for (let i = 11; i >= 0; i--) {
  const path = mk('path', {d:smoothPath(timeGrid, slowSeries[i], yF), fill:'none', stroke:slowColors[i], 'stroke-width':2.1, 'stroke-dasharray':'9 4.5'}, fl);
  
  
}
let phiD = '';
phiReadings.forEach(function(r, i) {
  phiD += (i ? 'L' : 'M') + xT(r[0]).toFixed(1) + ',' + yPhi(r[1]).toFixed(1);
});
const phi = mk('path', {d:phiD, fill:'none', stroke:'#95ee30', 'stroke-width':3.6, 'stroke-linejoin':'round'}, fl);


const plotFrame = mk('rect', {x:pL, y:pT, width:pR - pL, height:pB - pT, fill:'none', stroke:'#222', 'stroke-width':1.5}, fl);


for (let t = 9600; t <= 11200; t += 100) {
  const major = t % 200 === 0;
  const len = major ? 6 : 3;
  const tb = mk('path', {d:'M'+xT(t)+','+pB+'v'+(-len)+'M'+xT(t)+','+pT+'v'+len, stroke:'#222', 'stroke-width':1, fill:'none'}, fl);
  
  
}
timeTicks.forEach(function(t) {
  const lb = mk('text', {x:xT(t), y:848, 'text-anchor':'middle', 'font-size':16}, fl, String(t));
  
  
});
for (let k = 0; k <= 26; k++) {
  const v = 1 + k * 0.05;
  const major = k % 4 === 0;
  const tk = mk('line', {x1:pL, x2:pL + (major ? 6 : 3), y1:yF(v), y2:yF(v), stroke:'#222', 'stroke-width':1}, fl);
  
  
}
fluxTicks.forEach(function(lbl) {
  const lb = mk('text', {x:43, y:yF(parseFloat(lbl)) + 5.5, 'text-anchor':'end', 'font-size':16}, fl, lbl);
  
  
});
for (let v = 40; v <= 90; v += 5) {
  const major = v % 10 === 0;
  const tk = mk('line', {x1:pR, x2:pR - (major ? 6 : 3), y1:yPhi(v), y2:yPhi(v), stroke:'#222', 'stroke-width':1}, fl);
  
  
}
phiTicks.forEach(function(v) {
  const lb = mk('text', {x:1060, y:yPhi(v) + 5.5, 'font-size':16}, fl, String(v));
  
  
});

// ----- frequency legend -----
const lg = document.getElementById('legend-layer');
const lgTop = 461, lgH = 368 / 12;
frequencies.forEach(function(f, i) {
  const y = lgTop + i * lgH;
  const a = mk('rect', {x:1097.5, y:y, width:13.3, height:lgH, fill:fastColors[i], stroke:'#222', 'stroke-width':0.8}, lg);
  
  
  const b = mk('rect', {x:1110.8, y:y, width:13.3, height:lgH, fill:slowColors[i], stroke:'#222', 'stroke-width':0.8}, lg);
  
  
  const tk = mk('line', {x1:1124, x2:1128, y1:y + lgH/2, y2:y + lgH/2, stroke:'#222', 'stroke-width':1}, lg);
  
  
  const t = mk('text', {x:1135, y:y + lgH/2 + 5, 'font-size':15.5}, lg);
  
  
  mk('tspan', {'font-style':'italic'}, t, 'ν');
  mk('tspan', {}, t, '=' + f + ' GHz');
});
const lgFrame = mk('rect', {x:1097.5, y:461, width:26.6, height:368, fill:'none', stroke:'#222', 'stroke-width':1.4}, lg);


</script>
</body>
</html>
